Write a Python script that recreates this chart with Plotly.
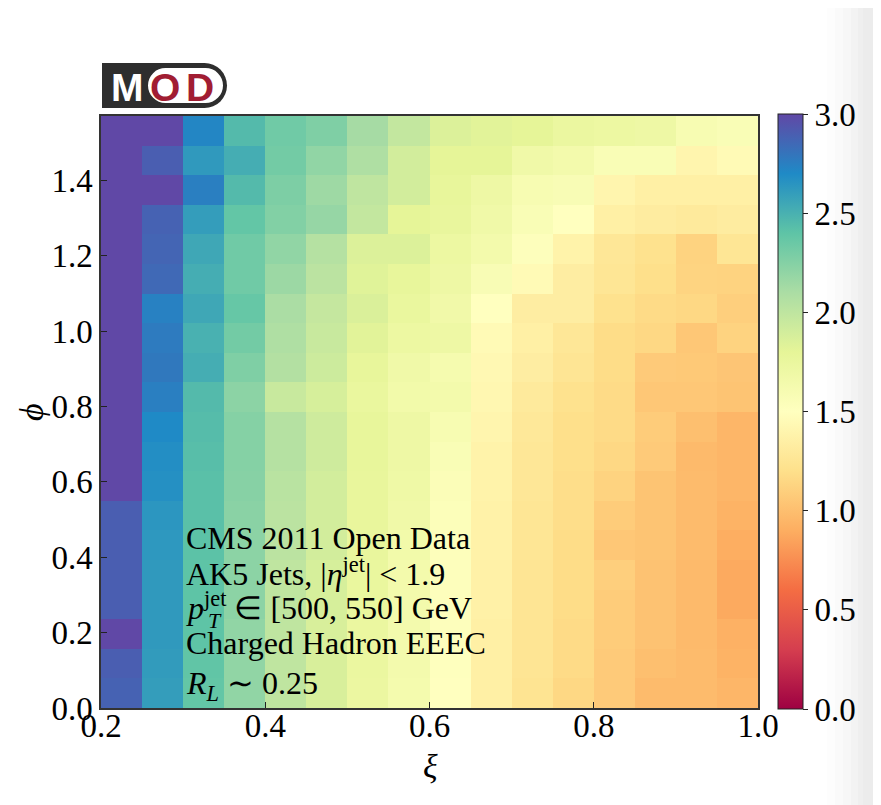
import math
import plotly.graph_objects as go

# ---------------- data ----------------
xi_edges = [0.20, 0.25, 0.30, 0.35, 0.40, 0.45, 0.50, 0.55, 0.60, 0.65, 0.70, 0.75, 0.80, 0.85, 0.90, 0.95, 1.00]
phi_edges = [i * (math.pi / 2) / 20 for i in range(21)]

# EEEC values per xi bin, listed from top (phi = pi/2) to bottom (phi = 0)
xi_0225 = [3.05, 3.05, 3.05, 3.05, 3.05, 3.05, 3.05, 3.05, 3.05, 3.05, 3.05, 3.05, 3.05, 2.9, 2.9, 2.9, 2.9, 3.05, 2.9, 2.88]
xi_0275 = [3.05, 2.9, 3.05, 2.88, 2.87, 2.85, 2.74, 2.77, 2.78, 2.75, 2.7, 2.68, 2.67, 2.64, 2.63, 2.62, 2.62, 2.62, 2.61, 2.6]
xi_0325 = [2.72, 2.62, 2.75, 2.6, 2.55, 2.52, 2.55, 2.5, 2.52, 2.45, 2.44, 2.43, 2.42, 2.42, 2.41, 2.4, 2.4, 2.4, 2.39, 2.38]
xi_0375 = [2.45, 2.52, 2.45, 2.38, 2.33, 2.33, 2.37, 2.32, 2.27, 2.22, 2.25, 2.25, 2.24, 2.23, 2.22, 2.22, 2.22, 2.2, 2.2, 2.2]
xi_0425 = [2.33, 2.32, 2.28, 2.26, 2.2, 2.16, 2.1, 2.08, 2.06, 1.95, 2.05, 2.05, 2.03, 2.02, 2.02, 2.0, 2.0, 2.0, 2.0, 2.0]
xi_0475 = [2.27, 2.2, 2.15, 2.18, 2.05, 2.02, 1.97, 1.95, 1.93, 1.88, 1.92, 1.92, 1.9, 1.9, 1.9, 1.88, 1.88, 1.87, 1.87, 1.87]
xi_0525 = [2.12, 2.08, 2.0, 1.98, 1.85, 1.83, 1.86, 1.82, 1.78, 1.75, 1.78, 1.78, 1.77, 1.77, 1.76, 1.75, 1.75, 1.74, 1.74, 1.73]
xi_0575 = [1.98, 1.9, 1.9, 1.8, 1.85, 1.78, 1.75, 1.72, 1.68, 1.66, 1.7, 1.7, 1.69, 1.68, 1.66, 1.65, 1.65, 1.64, 1.64, 1.63]
xi_0625 = [1.85, 1.8, 1.78, 1.76, 1.72, 1.7, 1.67, 1.7, 1.62, 1.65, 1.6, 1.57, 1.55, 1.54, 1.53, 1.52, 1.52, 1.52, 1.51, 1.5]
xi_0675 = [1.82, 1.8, 1.7, 1.68, 1.65, 1.58, 1.5, 1.45, 1.43, 1.42, 1.4, 1.38, 1.38, 1.37, 1.37, 1.36, 1.36, 1.35, 1.35, 1.35]
xi_0725 = [1.8, 1.68, 1.6, 1.57, 1.52, 1.45, 1.33, 1.35, 1.33, 1.3, 1.28, 1.27, 1.27, 1.26, 1.26, 1.25, 1.25, 1.25, 1.25, 1.24]
xi_0775 = [1.74, 1.65, 1.58, 1.5, 1.38, 1.33, 1.33, 1.27, 1.25, 1.22, 1.2, 1.2, 1.19, 1.19, 1.18, 1.18, 1.18, 1.17, 1.17, 1.15]
xi_0825 = [1.72, 1.57, 1.4, 1.35, 1.27, 1.26, 1.22, 1.18, 1.18, 1.17, 1.17, 1.15, 1.12, 1.08, 1.05, 1.1, 1.08, 1.08, 1.07, 1.07]
xi_0875 = [1.7, 1.57, 1.35, 1.32, 1.22, 1.2, 1.17, 1.15, 1.07, 1.05, 1.08, 1.07, 1.03, 1.03, 1.03, 1.02, 1.02, 1.02, 1.0, 0.98]
xi_0925 = [1.6, 1.4, 1.35, 1.3, 1.12, 1.13, 1.15, 1.05, 1.06, 1.05, 1.0, 0.97, 0.98, 0.98, 0.98, 0.97, 0.97, 0.97, 0.98, 0.98]
xi_0975 = [1.57, 1.45, 1.35, 1.32, 1.26, 1.12, 1.1, 1.12, 1.04, 1.03, 0.95, 0.95, 0.95, 0.93, 0.9, 0.88, 0.88, 0.92, 0.93, 0.95]

x_tick_vals = [0.2, 0.4, 0.6, 0.8, 1.0]
x_tick_text = ["0.2", "0.4", "0.6", "0.8", "1.0"]
y_tick_vals = [0.0, 0.2, 0.4, 0.6, 0.8, 1.0, 1.2, 1.4]
y_tick_text = ["0.0", "0.2", "0.4", "0.6", "0.8", "1.0", "1.2", "1.4"]
cbar_tick_vals = [0.0, 0.5, 1.0, 1.5, 2.0, 2.5, 3.0]
cbar_tick_text = ["0.0", "0.5", "1.0", "1.5", "2.0", "2.5", "3.0"]

info_lines = [
    "CMS 2011 Open Data",
    "AK5 Jets, |<i>η</i><sup>jet</sup>| < 1.9",
    "<i>p</i><sup>jet</sup> ∈ [500, 550] GeV",
    "Charged Hadron EEEC",
    "<i>R</i><sub><i>L</i></sub> ∼ 0.25",
]

# ---------------- build ----------------
columns = [xi_0225, xi_0275, xi_0325, xi_0375, xi_0425, xi_0475, xi_0525, xi_0575,
           xi_0625, xi_0675, xi_0725, xi_0775, xi_0825, xi_0875, xi_0925, xi_0975]
n_rows = len(phi_edges) - 1
z = [[col[n_rows - 1 - i] for col in columns] for i in range(n_rows)]

spectral = ["#9e0142", "#d53e4f", "#f46d43", "#fdae61", "#fee08b", "#ffffbf",
            "#e6f598", "#abdda4", "#5ec4a6", "#1f8ac6", "#6048a6"]
colorscale = [[i / 10, c] for i, c in enumerate(spectral)]

W, H = 881, 805
OFF = 7  # page offset of the figure inside the browser window
# plot area in window pixels
SL, SR, ST, SB = 100, 757, 115, 707
L, R, T, B = SL - OFF, SR - OFF, ST - OFF, SB - OFF
SERIF = "Liberation Serif, Times New Roman, serif"
FS = 33


def px(x):
    """window pixel x -> paper"""
    return (x - SL) / (SR - SL)


def py(y):
    """window pixel y -> paper"""
    return (SB - y) / (SB - ST)


fig = go.Figure()
fig.add_trace(go.Heatmap(
    x=xi_edges, y=phi_edges, z=z,
    zmin=0, zmax=3, colorscale=colorscale,
    hoverinfo="skip",
    colorbar=dict(
        x=px(777), xanchor="left", xpad=0,
        y=py(410.5), yanchor="middle", ypad=0,
        len=595 / 592, lenmode="fraction", thickness=25, thicknessmode="pixels",
        outlinewidth=1, outlinecolor="#222",
        tickmode="array", tickvals=cbar_tick_vals, ticktext=cbar_tick_text,
        ticks="outside", ticklen=5, tickwidth=1, tickcolor="#222",
        tickfont=dict(family=SERIF, size=FS, color="black"),
    ),
))

fig.update_xaxes(
    range=[0.2, 1.0], tickmode="array", tickvals=x_tick_vals, ticktext=x_tick_text,
    ticks="inside", ticklen=6, tickwidth=1.2, tickcolor="#222",
    showline=True, linecolor="#333", linewidth=1.5, mirror=True,
    showgrid=False, zeroline=False, automargin=False, ticklabelstandoff=-12,
    tickfont=dict(family=SERIF, size=FS, color="black"),
)
fig.update_yaxes(
    range=[0, math.pi / 2], tickmode="array", tickvals=y_tick_vals, ticktext=y_tick_text,
    ticks="inside", ticklen=6, tickwidth=1.2, tickcolor="#222",
    showline=True, linecolor="#333", linewidth=1.5, mirror=True,
    showgrid=False, zeroline=False, automargin=False,
    tickfont=dict(family=SERIF, size=FS, color="black"),
)

shapes = []
# screenshot edge shading on the right
grad = [(826, 834, "#fdfdfd"), (834, 842, "#fafafa"), (842, 850, "#f7f7f7"),
        (850, 857, "#f3f3f3"), (857, 862, "#efefef"), (862, 900, "#ececec")]
for x0, x1, c in grad:
    shapes.append(dict(type="rect", xref="paper", yref="paper",
                       x0=px(x0), x1=px(x1 + 1), y0=py(H + 20), y1=py(-20),
                       fillcolor=c, line=dict(width=0), layer="below"))

# MOD logo
dark = "#2e2e2e"
shapes.append(dict(type="rect", xref="paper", yref="paper", x0=px(101), x1=px(204),
                   y0=py(107), y1=py(62), fillcolor=dark, line=dict(width=0)))
shapes.append(dict(type="circle", xref="paper", yref="paper", x0=px(181), x1=px(226),
                   y0=py(107), y1=py(62), fillcolor=dark, line=dict(width=0)))
shapes.append(dict(type="rect", xref="paper", yref="paper", x0=px(165), x1=px(204),
                   y0=py(102), y1=py(67), fillcolor="white", line=dict(width=0)))
shapes.append(dict(type="circle", xref="paper", yref="paper", x0=px(147), x1=px(182),
                   y0=py(102), y1=py(67), fillcolor="white", line=dict(width=0)))
shapes.append(dict(type="circle", xref="paper", yref="paper", x0=px(187), x1=px(222),
                   y0=py(102), y1=py(67), fillcolor="white", line=dict(width=0)))

annotations = []
LOGO = "Liberation Sans, Arial, sans-serif"
annotations.append(dict(text="<b>M</b>", x=px(126), y=py(86), xref="paper", yref="paper",
                        showarrow=False, xanchor="center", yanchor="middle",
                        font=dict(family=LOGO, size=39, color="white")))
annotations.append(dict(text="<b>O</b>", x=px(164), y=py(86), xref="paper", yref="paper",
                        showarrow=False, xanchor="center", yanchor="middle",
                        font=dict(family=LOGO, size=39, color="#a11d33")))
annotations.append(dict(text="<b>D</b>", x=px(199), y=py(86), xref="paper", yref="paper",
                        showarrow=False, xanchor="center", yanchor="middle",
                        font=dict(family=LOGO, size=39, color="#a11d33")))

# info text block
line_y = [537, 571, 605, 642, 684]
for txt, yy in zip(info_lines, line_y):
    annotations.append(dict(text=txt, x=px(183), y=py(yy), xref="paper", yref="paper",
                            showarrow=False, xanchor="left", yanchor="middle",
                            font=dict(family=SERIF, size=32, color="black")))
# subscript T under the "jet" superscript of p_T
annotations.append(dict(text="<i>T</i>", x=px(205), y=py(619), xref="paper", yref="paper",
                        showarrow=False, xanchor="left", yanchor="middle",
                        font=dict(family=SERIF, size=22, color="black")))

# axis titles
annotations.append(dict(text="<i>ξ</i>", x=px(429), y=py(766), xref="paper", yref="paper",
                        showarrow=False, xanchor="center", yanchor="middle",
                        font=dict(family=SERIF, size=34, color="black")))
annotations.append(dict(text="<i>ϕ</i>", x=px(30), y=py(411), xref="paper", yref="paper",
                        showarrow=False, xanchor="center", yanchor="middle", textangle=-90,
                        font=dict(family=SERIF, size=34, color="black")))

fig.update_layout(
    width=W, height=H,
    margin=dict(l=L, r=W - R, t=T, b=H - B, pad=0),
    paper_bgcolor="white", plot_bgcolor="white",
    shapes=shapes, annotations=annotations,
    showlegend=False,
)

fig.write_html("out.html")
